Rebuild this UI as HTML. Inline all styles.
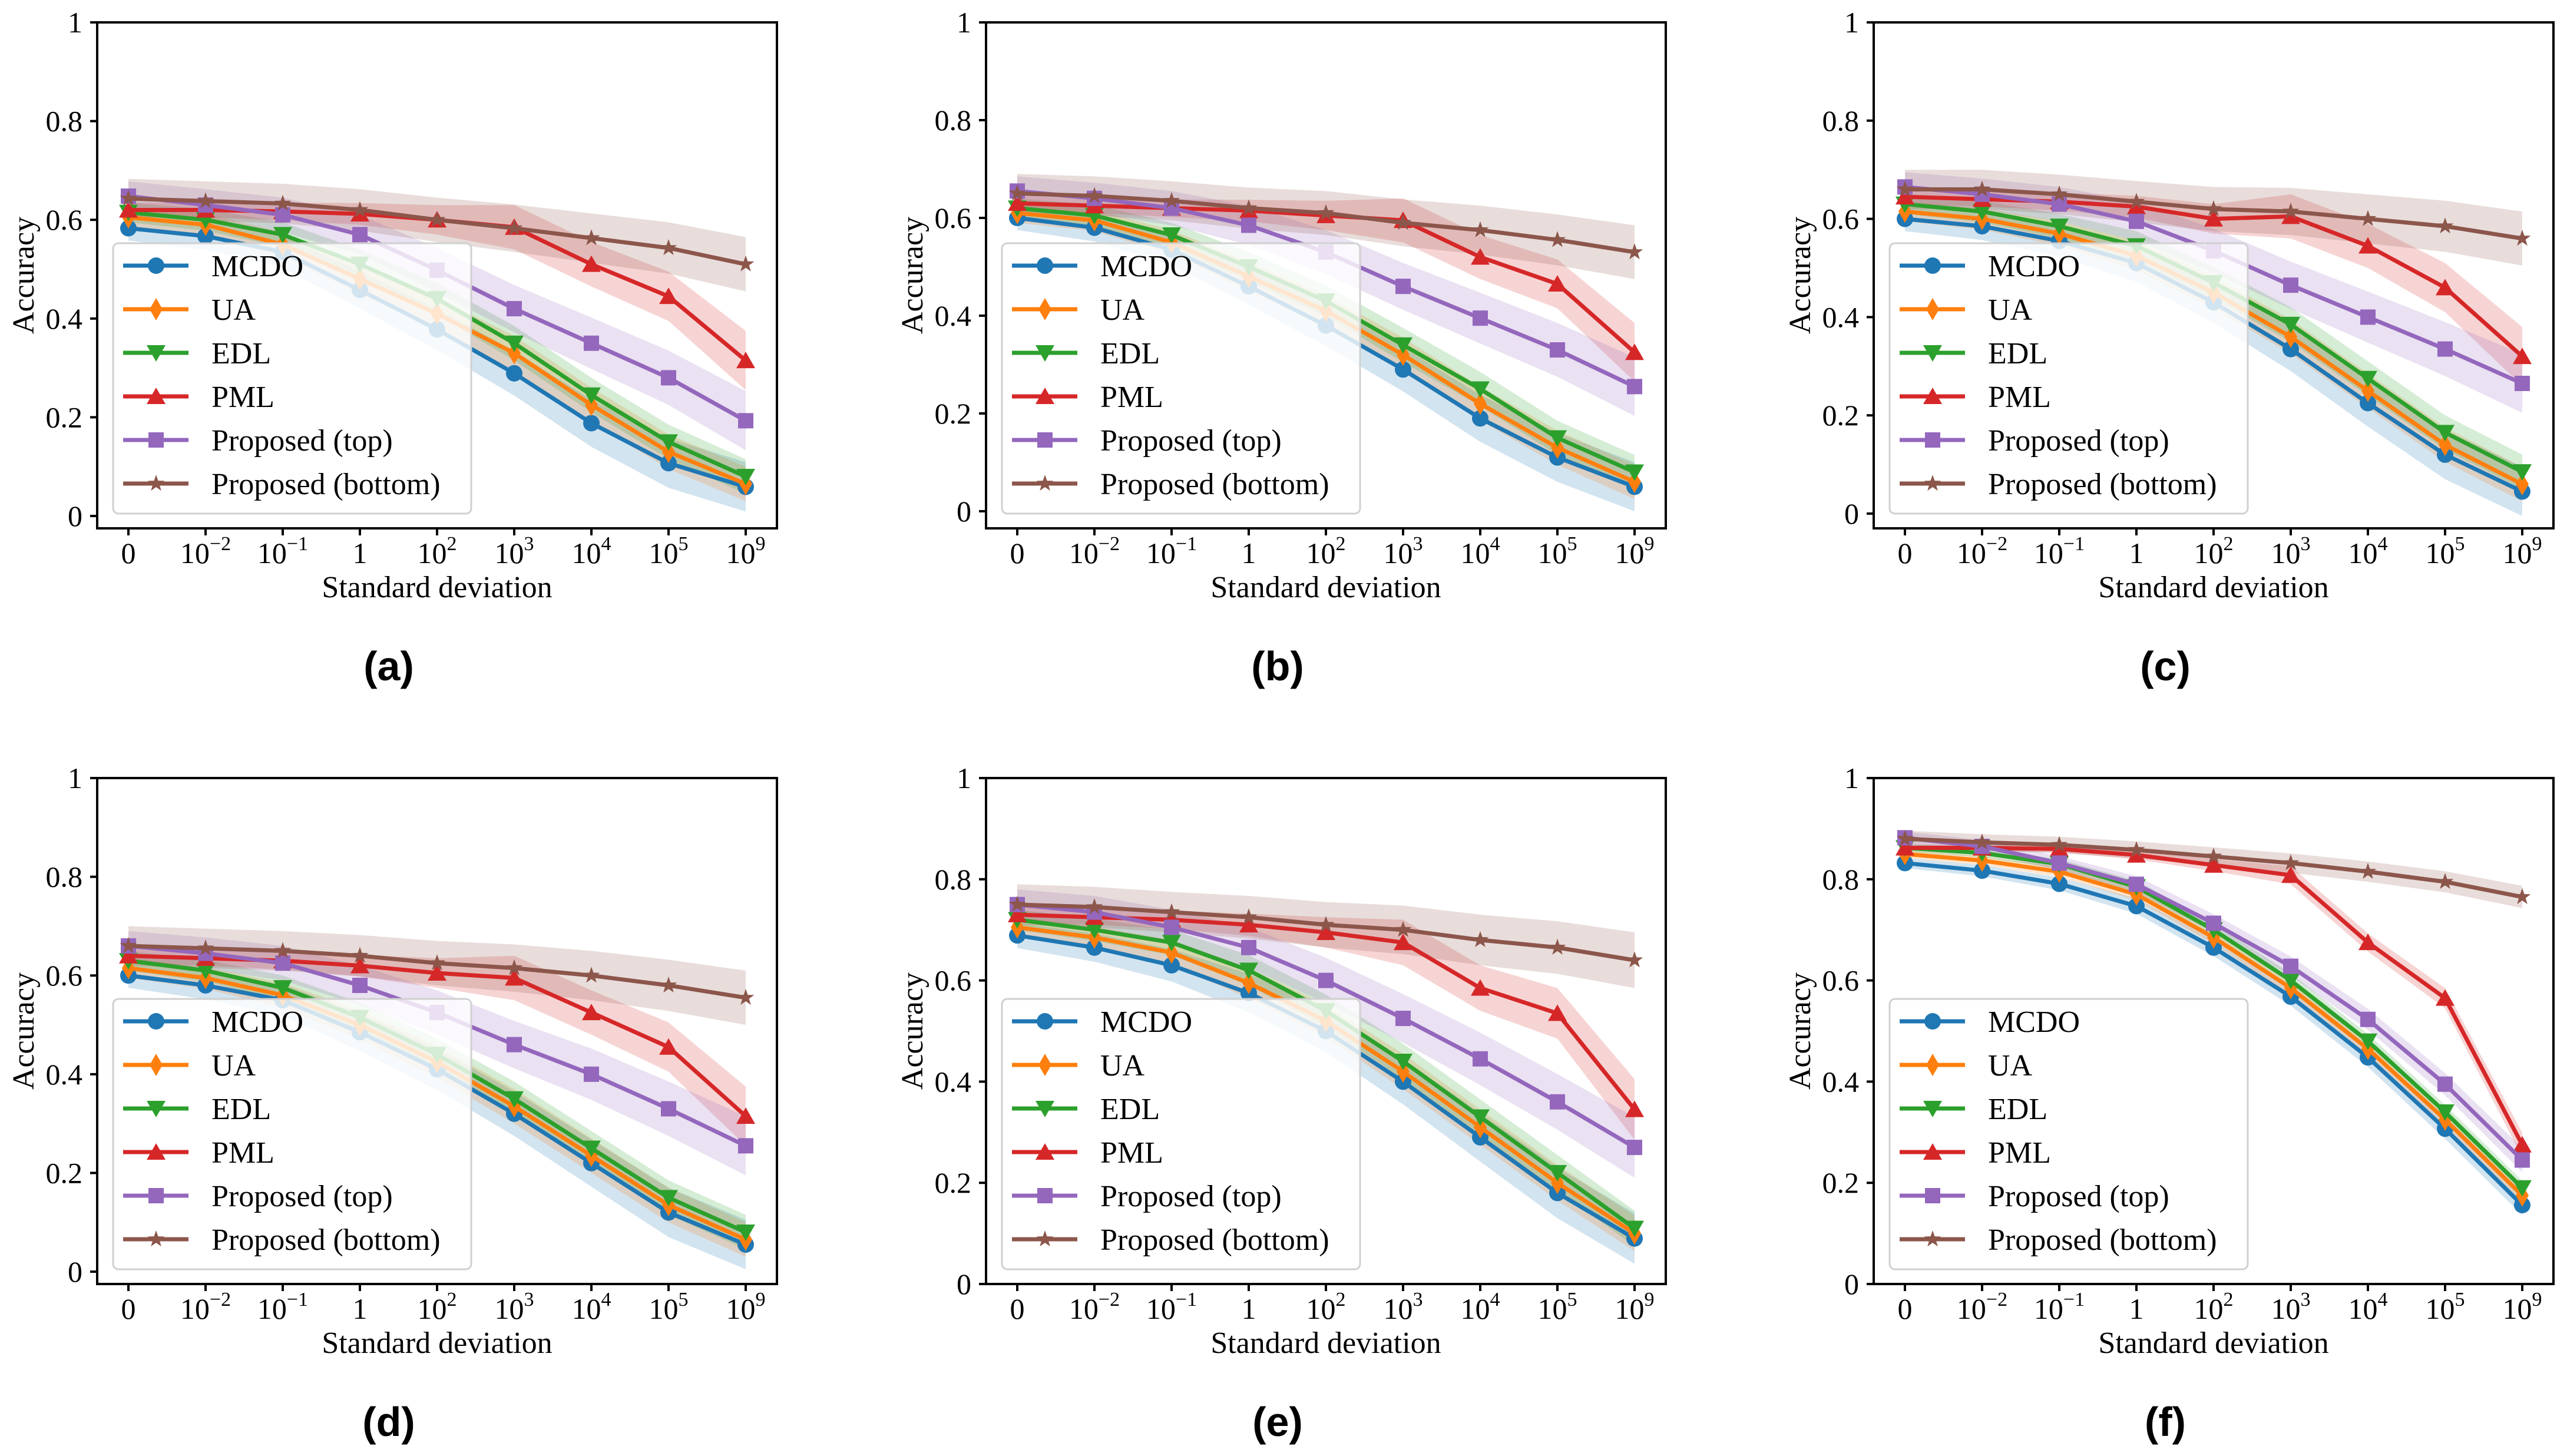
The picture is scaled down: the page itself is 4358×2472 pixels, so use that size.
<!DOCTYPE html>
<html><head><meta charset="utf-8">
<style>
html,body{margin:0;padding:0;background:#fff;}
svg{display:block;}
text{font-family:"Liberation Serif",serif;fill:#000;}
.cap{font-family:"Liberation Sans",sans-serif;font-weight:bold;}
</style></head>
<body>
<svg id="fig" width="4358" height="2472" viewBox="0 0 4358 2472" xmlns="http://www.w3.org/2000/svg"></svg>
<script>
const categories = ["0","10^-2","10^-1","1","10^2","10^3","10^4","10^5","10^9"];
const seriesNames = ["MCDO","UA","EDL","PML","Proposed (top)","Proposed (bottom)"];
const panelLabels = ["(a)","(b)","(c)","(d)","(e)","(f)"];
const yTicks = [0,0.2,0.4,0.6,0.8,1];
const yTickLabels = ["0","0.2","0.4","0.6","0.8","1"];
const yMins = [-0.025,-0.035,-0.03,-0.025,0,0];
const bandScale = [1,1,1,1,1,0.4];

const mcdo = [
 [0.583,0.567,0.535,0.458,0.378,0.289,0.188,0.107,0.059],
 [0.600,0.580,0.535,0.460,0.380,0.290,0.190,0.110,0.050],
 [0.600,0.585,0.555,0.510,0.430,0.335,0.225,0.120,0.045],
 [0.600,0.580,0.550,0.485,0.410,0.320,0.220,0.120,0.055],
 [0.689,0.665,0.630,0.575,0.500,0.400,0.290,0.180,0.090],
 [0.832,0.817,0.791,0.747,0.665,0.568,0.448,0.307,0.156]];
const ua = [
 [0.605,0.590,0.550,0.480,0.410,0.330,0.225,0.130,0.065],
 [0.610,0.595,0.550,0.480,0.410,0.320,0.220,0.130,0.060],
 [0.615,0.600,0.570,0.525,0.450,0.360,0.250,0.140,0.060],
 [0.615,0.595,0.560,0.500,0.425,0.335,0.235,0.135,0.065],
 [0.705,0.685,0.655,0.595,0.520,0.420,0.310,0.200,0.100],
 [0.850,0.837,0.815,0.770,0.685,0.585,0.465,0.325,0.175]];
const edl = [
 [0.615,0.600,0.570,0.510,0.440,0.350,0.245,0.150,0.080],
 [0.620,0.605,0.565,0.500,0.430,0.340,0.250,0.150,0.080],
 [0.630,0.615,0.585,0.545,0.470,0.385,0.275,0.165,0.085],
 [0.630,0.610,0.575,0.515,0.440,0.350,0.250,0.150,0.080],
 [0.720,0.700,0.675,0.620,0.540,0.440,0.330,0.220,0.110],
 [0.862,0.852,0.830,0.785,0.700,0.600,0.480,0.340,0.190]];
const pml = [
 [0.620,0.620,0.617,0.612,0.600,0.585,0.510,0.445,0.315],
 [0.630,0.625,0.620,0.615,0.605,0.595,0.520,0.465,0.325],
 [0.645,0.640,0.635,0.625,0.600,0.605,0.545,0.460,0.320],
 [0.640,0.635,0.630,0.620,0.605,0.595,0.525,0.455,0.315],
 [0.730,0.725,0.720,0.710,0.695,0.675,0.585,0.535,0.345],
 [0.862,0.862,0.860,0.848,0.828,0.808,0.675,0.565,0.275]];
const propTop = [
 [0.648,0.630,0.610,0.570,0.498,0.420,0.350,0.280,0.193],
 [0.655,0.640,0.620,0.585,0.530,0.460,0.395,0.330,0.255],
 [0.665,0.650,0.630,0.595,0.535,0.465,0.400,0.335,0.265],
 [0.660,0.645,0.625,0.580,0.525,0.460,0.400,0.330,0.255],
 [0.750,0.735,0.705,0.665,0.600,0.525,0.445,0.360,0.270],
 [0.882,0.865,0.832,0.790,0.713,0.628,0.523,0.395,0.245]];
const propBottom = [
 [0.643,0.638,0.633,0.620,0.600,0.583,0.563,0.543,0.510],
 [0.650,0.645,0.635,0.620,0.610,0.590,0.575,0.555,0.530],
 [0.660,0.660,0.650,0.635,0.620,0.615,0.600,0.585,0.560],
 [0.660,0.655,0.650,0.640,0.625,0.615,0.600,0.580,0.555],
 [0.750,0.745,0.735,0.725,0.710,0.700,0.680,0.665,0.640],
 [0.880,0.873,0.868,0.858,0.845,0.832,0.815,0.795,0.765]];
const stdMcdo = [0.025,0.028,0.032,0.038,0.042,0.045,0.048,0.050,0.050];
const stdUa = [0.020,0.022,0.025,0.030,0.032,0.035,0.035,0.035,0.035];
const stdEdl = [0.020,0.022,0.025,0.030,0.032,0.035,0.035,0.035,0.035];
const stdPml = [0.015,0.015,0.018,0.022,0.030,0.045,0.045,0.050,0.060];
const stdTop = [0.030,0.032,0.035,0.040,0.045,0.048,0.052,0.055,0.060];
const stdBottom = [0.040,0.040,0.040,0.042,0.045,0.048,0.050,0.052,0.055];

const allSeries = [mcdo,ua,edl,pml,propTop,propBottom];
const allStd = [stdMcdo,stdUa,stdEdl,stdPml,stdTop,stdBottom];
const colors = ["#1f77b4","#ff7f0e","#2ca02c","#d62728","#9467bd","#8c564b"];
const markers = ["o","d","v","^","s","*"];

const NS = "http://www.w3.org/2000/svg";
const fig = document.getElementById('fig');
function mk(tag, attrs, parent){const e=document.createElementNS(NS,tag);for(const k in attrs)e.setAttribute(k,attrs[k]);parent.appendChild(e);return e;}

const AW=1154, AH=859, AX=165, AY=38;
const colOff=[0,1509,3016], rowOff=[0,1283];

function markerEl(type,x,y,color,parent,s){
  s=s||1; let e;
  if(type==="o") e=mk('circle',{cx:x,cy:y,r:14*s,fill:color},parent);
  else if(type==="d") e=mk('polygon',{points:`${x},${y-19*s} ${x+11*s},${y} ${x},${y+19*s} ${x-11*s},${y}`,fill:color},parent);
  else if(type==="v") e=mk('polygon',{points:`${x-16*s},${y-13*s} ${x+16*s},${y-13*s} ${x},${y+15*s}`,fill:color},parent);
  else if(type==="^") e=mk('polygon',{points:`${x-16*s},${y+13*s} ${x+16*s},${y+13*s} ${x},${y-15*s}`,fill:color},parent);
  else if(type==="s") e=mk('rect',{x:x-13*s,y:y-13*s,width:26*s,height:26*s,fill:color},parent);
  else { let pts=[]; for(let i=0;i<10;i++){const r=(i%2?6:15)*s;const a=-Math.PI/2+i*Math.PI/5;pts.push((x+r*Math.cos(a)).toFixed(1)+","+(y+r*Math.sin(a)).toFixed(1));}
    e=mk('polygon',{points:pts.join(' '),fill:color},parent); }
  return e;
}

function tickLabel(g,x,y,lab){
  const t=mk('text',{x:x,y:y,'font-size':50,'text-anchor':'middle'},g);
  if(lab.indexOf('^')>=0){const p=lab.split('^');
    const a=document.createElementNS(NS,'tspan');a.textContent=p[0];t.appendChild(a);
    const b=document.createElementNS(NS,'tspan');b.setAttribute('font-size','34');b.setAttribute('dy','-22');b.textContent=p[1].replace('-','\u2212');t.appendChild(b);
  } else t.textContent=lab;
  return t;
}

for(let p=0;p<6;p++){
  const ox=AX+colOff[p%3], oy=AY+rowOff[Math.floor(p/3)];
  const ymin=yMins[p];
  const g=mk('g',{},fig);
  
  
  const xs=i=>ox+53+i*131;
  const ys=v=>oy+AH-(v-ymin)/(1-ymin)*AH;
  const clipId='clip'+p;
  const cp=mk('clipPath',{id:clipId},g); mk('rect',{x:ox,y:oy,width:AW,height:AH},cp);
  const plot=mk('g',{'clip-path':`url(#${clipId})`},g);
  // bands
  for(let s=0;s<6;s++){
    const d=allSeries[s][p], sd=allStd[s];
    let up=[],lo=[];
    for(let i=0;i<d.length;i++){up.push(xs(i)+","+ys(d[i]+sd[i]*bandScale[p]));lo.unshift(xs(i)+","+ys(d[i]-sd[i]*bandScale[p]));}
    const b=mk('polygon',{points:up.concat(lo).join(' '),fill:colors[s],'fill-opacity':0.2},plot);
    
    
  }
  for(let s=0;s<6;s++){
    const d=allSeries[s][p];
    const sg=mk('g',{},plot);
    
    
    mk('polyline',{points:d.map((v,i)=>xs(i)+","+ys(v)).join(' '),fill:'none',stroke:colors[s],'stroke-width':7,'stroke-linejoin':'round'},sg);
    d.forEach((v,i)=>{const m=markerEl(markers[s],xs(i),ys(v),colors[s],sg);
      
      });
  }
  // axes frame
  const fr=mk('rect',{x:ox,y:oy,width:AW,height:AH,fill:'none',stroke:'#000','stroke-width':4},g);
  
  
  // y ticks
  yTicks.forEach((v,i)=>{const y=ys(v);
    mk('line',{x1:ox-12,x2:ox,y1:y,y2:y,stroke:'#000','stroke-width':4},g);
    const t=mk('text',{x:ox-25,y:y+17,'font-size':50,'text-anchor':'end'},g); t.textContent=yTickLabels[i];
    
    });
  categories.forEach((c,i)=>{const x=xs(i);
    mk('line',{x1:x,x2:x,y1:oy+AH,y2:oy+AH+12,stroke:'#000','stroke-width':4},g);
    const t=tickLabel(g,x,oy+AH+59,c);
    
    });
  const xt=mk('text',{x:ox+AW/2,y:oy+AH+117,'font-size':52,'text-anchor':'middle'},g); xt.textContent='Standard deviation';
  
  
  const yt=mk('text',{x:0,y:0,'font-size':52,'text-anchor':'middle',transform:`translate(${ox-108},${oy+AH/2}) rotate(-90)`},g); yt.textContent='Accuracy';
  
  
  const cap=mk('text',{x:ox+495,y:oy+1117,'font-size':70,'text-anchor':'middle','class':'cap'},g); cap.textContent=panelLabels[p];
  
  
  // legend
  const lg=mk('g',{},g);
  
  
  const lx=ox+27, ly=oy+375;
  mk('rect',{x:lx,y:ly,width:608,height:459,rx:9,fill:'#fff','fill-opacity':0.8,stroke:'#d0d0d0','stroke-width':3},lg);
  seriesNames.forEach((n,s)=>{const y=ly+38+s*74;
    const e=mk('g',{},lg);
    
    
    mk('line',{x1:lx+17,x2:lx+128,y1:y,y2:y,stroke:colors[s],'stroke-width':7},e);
    markerEl(markers[s],lx+73,y,colors[s],e);
    const t=mk('text',{x:lx+167,y:y+18,'font-size':52},e); t.textContent=n;});
}
</script>
</body></html>
